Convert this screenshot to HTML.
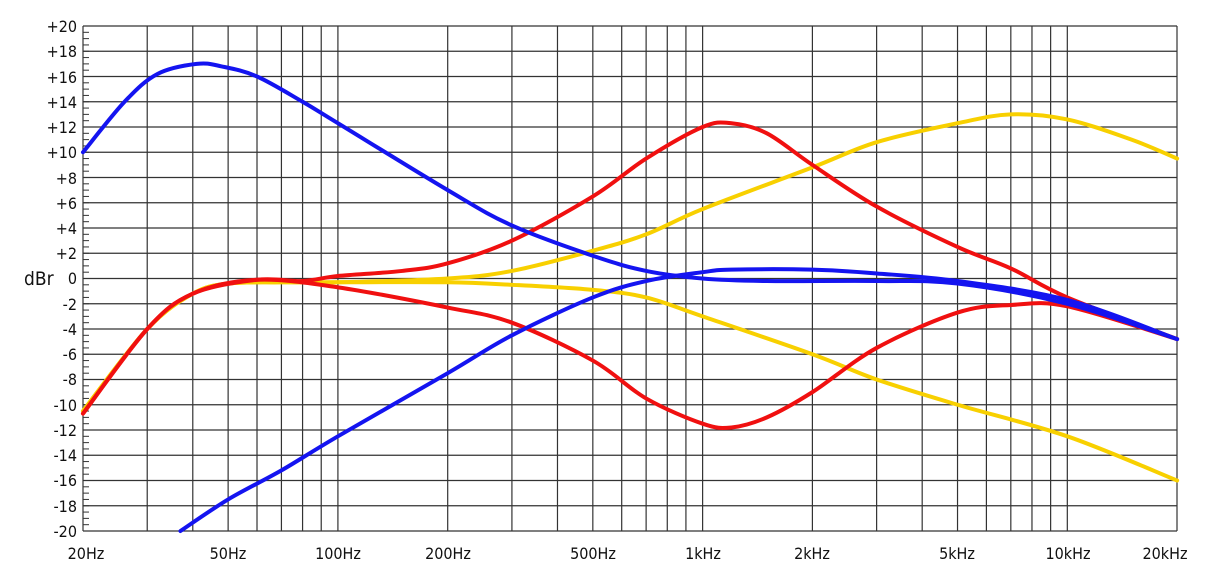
<!DOCTYPE html>
<html><head><meta charset="utf-8"><style>
body{margin:0;background:#fff;}
svg{display:block;font-family:"DejaVu Sans Condensed","Liberation Sans",sans-serif;}
.yl{font-size:16px;text-anchor:end;fill:#111;}
.xl{font-size:16px;text-anchor:middle;fill:#111;}
</style></head><body>
<svg id="s" width="1214" height="586" viewBox="0 0 1214 586">
<g id="grid" stroke="#333" stroke-width="1.2" fill="none"></g>
<g id="curves" fill="none" stroke-width="4" stroke-linejoin="round" stroke-linecap="round"></g>
<text class="yl" x="77" y="32">+20</text><text class="yl" x="77" y="57">+18</text>
<text class="yl" x="77" y="83">+16</text><text class="yl" x="77" y="108">+14</text>
<text class="yl" x="77" y="133">+12</text><text class="yl" x="77" y="158">+10</text>
<text class="yl" x="77" y="184">+8</text><text class="yl" x="77" y="209">+6</text>
<text class="yl" x="77" y="234">+4</text><text class="yl" x="77" y="259">+2</text>
<text class="yl" x="77" y="284">0</text><text class="yl" x="77" y="310">-2</text>
<text class="yl" x="77" y="335">-4</text><text class="yl" x="77" y="360">-6</text>
<text class="yl" x="77" y="385">-8</text><text class="yl" x="77" y="411">-10</text>
<text class="yl" x="77" y="436">-12</text><text class="yl" x="77" y="461">-14</text>
<text class="yl" x="77" y="486">-16</text><text class="yl" x="77" y="512">-18</text>
<text class="yl" x="77" y="537">-20</text>
<text x="24" y="285" style="font-size:19px;fill:#111">dBr</text>
<text class="xl" x="86" y="559">20Hz</text><text class="xl" x="228" y="559">50Hz</text>
<text class="xl" x="338" y="559">100Hz</text><text class="xl" x="448" y="559">200Hz</text>
<text class="xl" x="593" y="559">500Hz</text><text class="xl" x="703" y="559">1kHz</text>
<text class="xl" x="812" y="559">2kHz</text><text class="xl" x="957" y="559">5kHz</text>
<text class="xl" x="1068" y="559">10kHz</text><text class="xl" x="1165" y="559">20kHz</text>
</svg>
<script>
var L=83,R=1177,T=26,B=531,D=364.7;
function X(f){return L+D*Math.log10(f/20);}
function Y(d){return 278.5-12.625*d;}
var g=document.getElementById('grid'),h='';
for(var d=-20;d<=20;d+=2)h+='<line x1="'+L+'" x2="'+R+'" y1="'+Y(d)+'" y2="'+Y(d)+'"/>';
for(var d=-20;d<=20;d+=0.5)h+='<line x1="'+L+'" x2="'+(L+6)+'" y1="'+Y(d)+'" y2="'+Y(d)+'" stroke-width="1"/>';
[1,10,100].forEach(function(m){for(var k=2;k<=10;k++){var f=k*m*10;if(f<20||f>20000)continue;var x=X(f);h+='<line x1="'+x+'" x2="'+x+'" y1="'+T+'" y2="'+B+'"/>';}});
h+='<line x1="'+R+'" x2="'+R+'" y1="'+T+'" y2="'+B+'"/>';
g.innerHTML=h;
function path(p){var q=p.map(function(a){return [X(a[0]),Y(a[1])];});var s='M'+q[0][0]+','+q[0][1];
for(var i=0;i<q.length-1;i++){var p0=q[i-1]||q[i],p1=q[i],p2=q[i+1],p3=q[i+2]||p2;
s+=' C'+(p1[0]+(p2[0]-p0[0])/6)+','+(p1[1]+(p2[1]-p0[1])/6)+' '+(p2[0]-(p3[0]-p1[0])/6)+','+(p2[1]-(p3[1]-p1[1])/6)+' '+p2[0]+','+p2[1];}return s;}
var Yc='#f8d000',Rc='#f01010',Bc='#1414f0';
var C=[
[Yc,[[20,-10.5],[30,-4],[40,-1.2],[50,-0.4],[70,-0.3],[100,-0.3],[200,0],[300,0.6],[500,2.2],[700,3.5],[1000,5.5],[2000,8.8],[3000,10.8],[5000,12.3],[7000,13],[10000,12.6],[15000,11],[20000,9.5]]],
[Yc,[[20,-10.5],[30,-4],[40,-1.2],[50,-0.4],[70,-0.3],[100,-0.3],[200,-0.3],[300,-0.5],[500,-0.9],[700,-1.5],[1000,-3],[2000,-6],[3000,-8],[5000,-10],[10000,-12.5],[20000,-16]]],
[Rc,[[20,-10.7],[30,-4],[40,-1.2],[60,-0.1],[80,-0.2],[100,0.2],[150,0.6],[200,1.2],[300,3],[500,6.5],[700,9.5],[1000,12],[1200,12.3],[1500,11.5],[2000,9],[3000,5.7],[5000,2.5],[7000,0.8],[10000,-1.5],[20000,-4.8]]],
[Rc,[[20,-10.7],[30,-4],[40,-1.2],[60,-0.1],[100,-0.7],[200,-2.3],[300,-3.5],[500,-6.5],[700,-9.5],[1000,-11.5],[1200,-11.8],[1500,-11],[2000,-9],[3000,-5.5],[5000,-2.7],[7000,-2.1],[10000,-2.2],[20000,-4.8]]],
[Bc,[[20,10],[26,14],[32,16.2],[41,17],[48,16.8],[60,16],[80,14],[100,12.3],[200,7],[300,4.2],[500,1.8],[700,0.6],[1000,0],[1500,-0.2],[3000,-0.2],[5000,-0.4],[10000,-2],[20000,-4.8]]],
[Bc,[[37,-20],[50,-17.5],[70,-15.2],[100,-12.5],[200,-7.5],[300,-4.5],[500,-1.5],[700,-0.2],[1000,0.5],[1200,0.7],[2000,0.7],[3000,0.4],[5000,-0.2],[10000,-1.7],[20000,-4.8]]]];
var c='';C.forEach(function(a){c+='<path stroke="'+a[0]+'" d="'+path(a[1])+'"/>';});
document.getElementById('curves').innerHTML=c;
</script>
</body></html>
